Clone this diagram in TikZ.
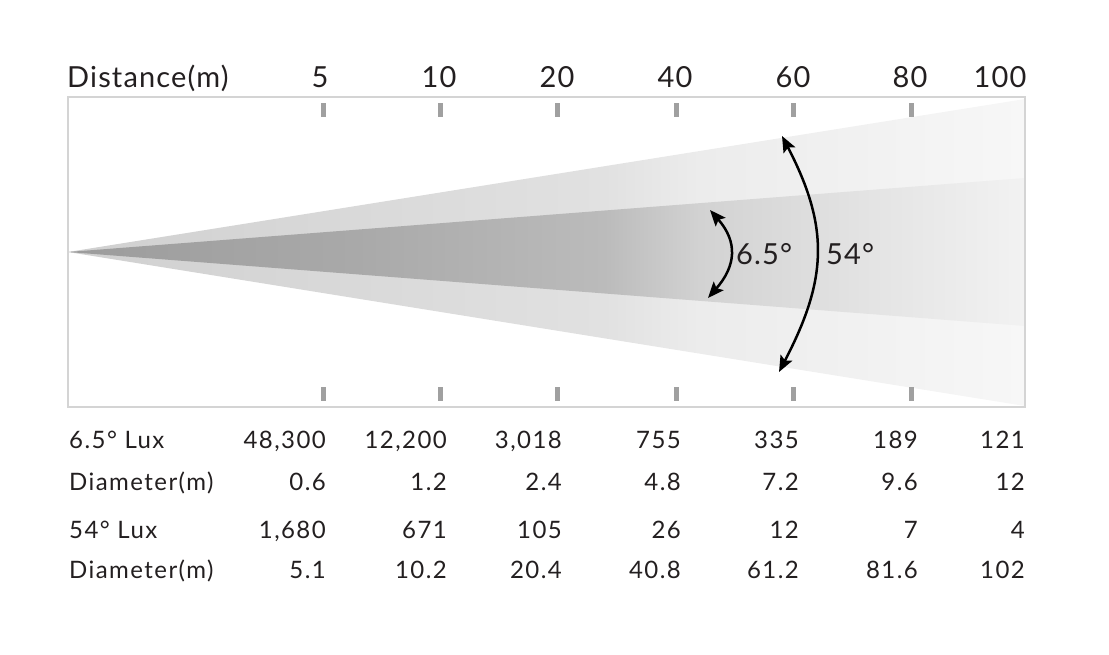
\documentclass[tikz,border=0pt]{standalone}
\usepackage{fontspec}
\setmainfont{Lato}[LetterSpace=4]
\newfontfamily\tablefont{Lato}[LetterSpace=6]
\usetikzlibrary{arrows.meta,positioning,calc}
\definecolor{framegray}{HTML}{D4D4D4}
\definecolor{tickgray}{HTML}{A0A0A0}
\definecolor{textdark}{HTML}{231F20}
% narrow (6.5 deg) beam
\definecolor{spotA}{HTML}{9C9C9C}
\definecolor{spotB}{HTML}{A9A9A9}
\definecolor{spotC}{HTML}{BBBBBB}
\definecolor{spotD}{HTML}{D2D2D2}
\definecolor{spotE}{HTML}{E2E2E2}
\definecolor{spotF}{HTML}{F2F2F2}
% wide (54 deg) beam
\definecolor{floodA}{HTML}{D0D0D0}
\definecolor{floodB}{HTML}{D9D9D9}
\definecolor{floodC}{HTML}{E1E1E1}
\definecolor{floodD}{HTML}{ECECEC}
\definecolor{floodE}{HTML}{F1F1F1}
\definecolor{floodF}{HTML}{F7F7F7}
\pgfdeclarehorizontalshading{spotbeam}{100bp}{color(0bp)=(spotA); color(25bp)=(spotA); color(40bp)=(spotB); color(53bp)=(spotC); color(58bp)=(spotD); color(66bp)=(spotE); color(75bp)=(spotF); color(100bp)=(spotF)}
\pgfdeclarehorizontalshading{floodbeam}{100bp}{color(0bp)=(floodA); color(25bp)=(floodA); color(40bp)=(floodB); color(53bp)=(floodC); color(58bp)=(floodD); color(66bp)=(floodE); color(75bp)=(floodF); color(100bp)=(floodF)}

\begin{document}
\begin{tikzpicture}[x=1pt,y=-1pt,
  hdr/.style={font=\fontsize{29}{31}\selectfont,text=textdark,anchor=base,inner sep=0pt},
  cell/.style={font=\tablefont\fontsize{24}{26}\selectfont,text=textdark,anchor=base east,inner sep=0pt},
  rowlabel/.style={cell,anchor=base west},
  tickmark/.style={fill=tickgray},
  beamarrow/.style={line width=2.5pt,{Stealth[length=16pt,width=13pt,inset=3pt]}-{Stealth[length=16pt,width=13pt,inset=3pt]}}]

  \useasboundingbox (0,0) rectangle (1109,655);

  % beams
  \coordinate (apex) at (68,252);
  \shade[shading=floodbeam] (apex) -- (1025,99) -- (1025,406) -- cycle;
  \shade[shading=spotbeam] (apex) -- (1025,178) -- (1025,326) -- cycle;

  % frame and distance ticks
  \draw[framegray,line width=1.5pt] (68,97) rectangle (1025,407);
  \foreach \x in {323,440,557,676,793,911}{
    \fill[tickmark] (\x-2.5,103) rectangle (\x+2.5,117);
    \fill[tickmark] (\x-2.5,387) rectangle (\x+2.5,401);
  }

  % distance header
  \node[hdr,anchor=base west] (distlabel) at (67,88) {Distance(m)};
  \foreach \x/\d in {320/5,439/10,557/20,675/40,793/60,910/80,1000/100}
    \node[hdr] (dist\d) at (\x,88) {\d};

  % beam angles
  \coordinate (widetop) at (782,136);
  \coordinate (widebot) at (779,372);
  \coordinate (narrowtop) at (710,210);
  \coordinate (narrowbot) at (708,298);
  \draw[beamarrow] (widetop) .. controls (830,228) and (827,280) .. (widebot);
  \draw[beamarrow] (narrowtop) .. controls (738,242) and (736,266) .. (narrowbot);
  \node[hdr,anchor=base west] (narrowlabel) at (736,265) {6.5°};
  \node[hdr,anchor=base west] (widelabel) at (826,265) {54°};

  % photometric table
  \node[rowlabel] (spotluxlabel) at (69,448) {6.5° Lux};
  \node[rowlabel] (spotdialabel) at (69,490) {Diameter(m)};
  \node[rowlabel] (floodluxlabel) at (69,538) {54° Lux};
  \node[rowlabel] (flooddialabel) at (69,578) {Diameter(m)};
  \foreach \x/\sl/\sd/\fl/\fd [count=\i] in {
      326/{48,300}/0.6/{1,680}/5.1,
      447/{12,200}/1.2/671/10.2,
      562/{3,018}/2.4/105/20.4,
      681/755/4.8/26/40.8,
      799/335/7.2/12/61.2,
      918/189/9.6/7/81.6,
      1025/121/12/4/102}{
    \node[cell] (spotlux\i) at (\x,448) {\sl};
    \node[cell] (spotdia\i) at (\x,490) {\sd};
    \node[cell] (floodlux\i) at (\x,538) {\fl};
    \node[cell] (flooddia\i) at (\x,578) {\fd};
  }
\end{tikzpicture}
\end{document}
